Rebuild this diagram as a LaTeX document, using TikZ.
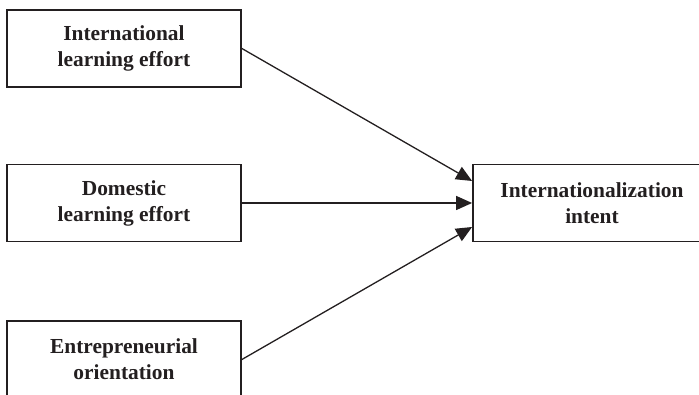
\documentclass[tikz,border=0pt]{standalone}
\usepackage{fontspec}
\setmainfont{Liberation Serif}
\usetikzlibrary{arrows.meta}
\definecolor{ink}{HTML}{231F20}
\tikzset{
  construct/.style={draw=ink, line width=1.8pt, minimum width=234pt, minimum height=77pt,
    align=center, text=ink, inner sep=0pt,
    font=\fontsize{21.4}{26}\selectfont\bfseries},
  path/.style={draw=ink, line width=1.3pt, -{Triangle[length=16pt,width=14pt]}}
}
\begin{document}
\begin{tikzpicture}[x=1pt,y=1pt]
  \clip (0,0) rectangle (699,395);
  \node[construct] (intl) at (124,346.5) {International\\learning effort};
  \node[construct] (dom) at (124,192) {Domestic\\learning effort};
  \node[construct] (eo) at (124,35.5) {Entrepreneurial\\orientation};
  \node[construct, minimum width=238pt] (intent) at (592,192) {Internationalization\\intent};
  \draw[path] (intl.east) -- ([yshift=22pt]intent.west);
  \draw[path] (dom.east) -- (intent.west);
  \draw[path] (eo.east) -- ([yshift=-24pt]intent.west);
\end{tikzpicture}
\end{document}
